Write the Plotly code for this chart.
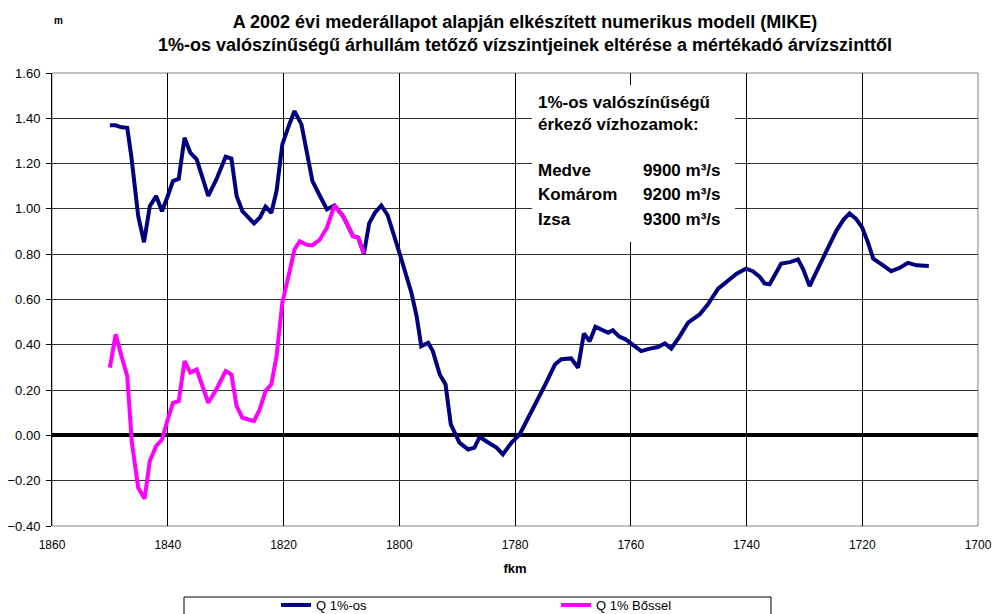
import plotly.graph_objects as go

# ---------------- data ----------------
km_q1 = [1850.0, 1849.0, 1848.0, 1847.0, 1846.3, 1845.7, 1845.1, 1844.1, 1843.1, 1842.0,
         1841.0, 1840.0, 1839.1, 1838.1, 1837.1, 1836.1, 1835.0, 1833.0, 1831.6, 1830.0,
         1829.0, 1828.1, 1827.1, 1825.1, 1824.1, 1823.1, 1822.1, 1821.2, 1820.2, 1819.0,
         1818.1, 1816.9, 1816.0, 1815.0, 1813.7, 1812.5, 1811.2, 1809.7, 1808.0, 1807.1,
         1806.1, 1805.2, 1804.2, 1803.1, 1802.0, 1800.8, 1799.9, 1797.9, 1797.0, 1796.2,
         1795.0, 1794.2, 1793.0, 1792.0, 1791.1, 1789.6, 1788.1, 1787.0, 1786.1, 1784.7,
         1783.2, 1782.1, 1780.6, 1779.2, 1777.8, 1776.3, 1774.9, 1773.1, 1772.0, 1770.3,
         1769.1, 1768.1, 1767.1, 1766.1, 1764.9, 1763.9, 1763.1, 1762.0, 1760.9, 1759.6,
         1758.2, 1756.7, 1755.3, 1754.1, 1753.0, 1751.6, 1750.1, 1748.1, 1746.7, 1744.9,
         1743.2, 1741.7, 1740.1, 1738.9, 1737.7, 1736.9, 1736.0, 1735.1, 1734.0, 1732.5,
         1731.1, 1730.2, 1729.1, 1727.6, 1726.2, 1724.5, 1723.2, 1722.2, 1721.1, 1720.0,
         1719.0, 1718.1, 1716.4, 1715.0, 1713.5, 1712.1, 1710.6, 1709.5, 1708.5]
val_q1 = [1.369, 1.369, 1.360, 1.358, 1.233, 1.100, 0.968, 0.853, 1.012, 1.057,
          0.990, 1.057, 1.123, 1.133, 1.314, 1.248, 1.219, 1.057, 1.130, 1.230,
          1.222, 1.057, 0.990, 0.936, 0.961, 1.010, 0.983, 1.079, 1.285, 1.373,
          1.432, 1.373, 1.248, 1.123, 1.057, 0.998, 1.015, 0.968, 0.880, 0.873,
          0.803, 0.936, 0.983, 1.015, 0.972, 0.880, 0.800, 0.630, 0.527, 0.394,
          0.409, 0.372, 0.269, 0.225, 0.049, -0.032, -0.062, -0.054, -0.007, -0.030,
          -0.054, -0.084, -0.032, 0.004, 0.071, 0.144, 0.218, 0.313, 0.336, 0.340,
          0.299, 0.450, 0.416, 0.480, 0.464, 0.453, 0.464, 0.436, 0.424, 0.397,
          0.372, 0.383, 0.390, 0.406, 0.383, 0.435, 0.498, 0.534, 0.578, 0.648,
          0.681, 0.714, 0.736, 0.725, 0.700, 0.671, 0.667, 0.711, 0.759, 0.765,
          0.777, 0.733, 0.659, 0.740, 0.814, 0.902, 0.954, 0.980, 0.957, 0.917,
          0.851, 0.780, 0.751, 0.725, 0.740, 0.762, 0.751, 0.751, 0.748]

km_bossel = [1850.0, 1849.0, 1848.0, 1847.0, 1846.2, 1845.1, 1844.0, 1843.1, 1842.0, 1841.0,
             1840.0, 1839.1, 1838.1, 1837.1, 1836.1, 1835.0, 1833.0, 1831.6, 1830.0, 1829.0,
             1828.1, 1827.1, 1825.1, 1824.1, 1823.1, 1822.1, 1821.2, 1820.2, 1819.0, 1818.1,
             1817.2, 1816.1, 1815.0, 1813.7, 1812.5, 1811.2, 1809.7, 1808.0, 1807.1, 1806.1]
val_bossel = [0.299, 0.446, 0.350, 0.262, -0.032, -0.231, -0.280, -0.113, -0.047, -0.018,
              0.071, 0.144, 0.151, 0.328, 0.277, 0.291, 0.144, 0.203, 0.284, 0.269,
              0.129, 0.078, 0.063, 0.115, 0.196, 0.225, 0.350, 0.586, 0.718, 0.821,
              0.857, 0.843, 0.839, 0.865, 0.917, 1.015, 0.968, 0.880, 0.873, 0.803]

series_names = ["Q 1%-os", "Q 1% Bőssel"]
title_lines = ["A 2002 évi mederállapot alapján elkészített numerikus modell (MIKE)",
               "1%-os valószínűségű árhullám tetőző vízszintjeinek eltérése a mértékadó árvízszinttől"]
box_head = ["1%-os valószínűségű", "érkező vízhozamok:"]
stations = ["Medve", "Komárom", "Izsa"]
discharges = [9900, 9200, 9300]

# ---------------- layout helpers (pixel -> paper) ----------------
W, H = 994, 614
L, R, T, B = 52, 16, 73, 88
PW, PH = W - L - R, H - T - B
def px(x):
    return (x - L) / PW
def py(y):
    return (H - B - y) / PH

FONT = "Liberation Sans, Arial, sans-serif"

fig = go.Figure()
fig.add_trace(go.Scatter(x=km_q1, y=val_q1, mode="lines", name=series_names[0],
                         line=dict(color="#000080", width=4)))
fig.add_trace(go.Scatter(x=km_bossel, y=val_bossel, mode="lines", name=series_names[1],
                         line=dict(color="#FF00FF", width=4)))

shapes = [
    # plot area frame
    dict(type="rect", xref="paper", yref="paper", x0=0, x1=1, y0=0, y1=1,
         line=dict(color="#808080", width=1), layer="below"),
    # white text box
    dict(type="rect", xref="paper", yref="paper", x0=px(532), x1=px(735), y0=py(242), y1=py(85),
         line=dict(width=0), fillcolor="white", layer="above"),
    # legend frame
    dict(type="rect", xref="paper", yref="paper", x0=px(184), x1=px(771), y0=py(640), y1=py(597),
         line=dict(color="#000000", width=1), fillcolor="rgba(0,0,0,0)", layer="above"),
]

annotations = [
    dict(text="<b>m</b>", x=px(58), y=py(20), xref="paper", yref="paper",
         xanchor="center", yanchor="middle",
         showarrow=False, font=dict(size=10, family=FONT, color="black")),
]
box_font = dict(size=17, family=FONT, color="black")
for i, t in enumerate(box_head):
    annotations.append(dict(text=f"<b>{t}</b>", x=px(536), y=py(102 + 22 * i), xref="paper", yref="paper",
                            xanchor="left", yanchor="middle", showarrow=False, font=box_font))
for i, (s, q) in enumerate(zip(stations, discharges)):
    yy = py(170 + 24.5 * i)
    annotations.append(dict(text=f"<b>{s}</b>", x=px(536), y=yy, xref="paper", yref="paper",
                            xanchor="left", yanchor="middle", showarrow=False, font=box_font))
    annotations.append(dict(text=f"<b>{q} m³/s</b>", x=px(723), y=yy, xref="paper", yref="paper",
                            xanchor="right", yanchor="middle", showarrow=False, font=box_font))

fig.update_layout(
    width=W, height=H,
    margin=dict(l=L, r=R, t=T, b=B, autoexpand=False),
    paper_bgcolor="white", plot_bgcolor="white",
    font=dict(family=FONT, color="black"),
    title=dict(text="<b>" + "<br>".join(title_lines) + "</b>",
               x=525 / W, xref="container", xanchor="center",
               y=1 - 27.5 / H, yref="container", yanchor="middle",
               font=dict(size=18, family=FONT, color="black")),
    xaxis=dict(range=[1860, 1700], dtick=20, tick0=1700,
               showgrid=True, gridcolor="#000000", gridwidth=1,
               zeroline=False, showline=False, ticks="",
               ticklabelstandoff=10,
               tickfont=dict(size=12, family=FONT),
               title=dict(text="<b>fkm</b>", font=dict(size=13, family=FONT), standoff=12)),
    yaxis=dict(range=[-0.4, 1.6], dtick=0.2, tick0=0, tickformat=".2f",
               showgrid=True, gridcolor="#303030", gridwidth=1,
               zeroline=True, zerolinecolor="#000000", zerolinewidth=4,
               showline=True, linecolor="#000000", linewidth=1,
               ticks="outside", ticklen=5, tickcolor="#000000",
               ticklabelstandoff=3,
               tickfont=dict(size=13, family=FONT)),
    legend=dict(orientation="h", x=px(276), y=py(590), xanchor="left", yanchor="top",
                xref="paper", yref="paper", bgcolor="rgba(0,0,0,0)",
                entrywidth=235, entrywidthmode="pixels", tracegroupgap=0,
                font=dict(size=13, family=FONT, color="black")),
    shapes=shapes,
    annotations=annotations,
)

fig.write_html("out.html",
               config={"displayModeBar": False},
               post_script="document.body.style.margin='0px';document.body.style.padding='0px';"
                           "document.body.style.overflow='hidden';")
